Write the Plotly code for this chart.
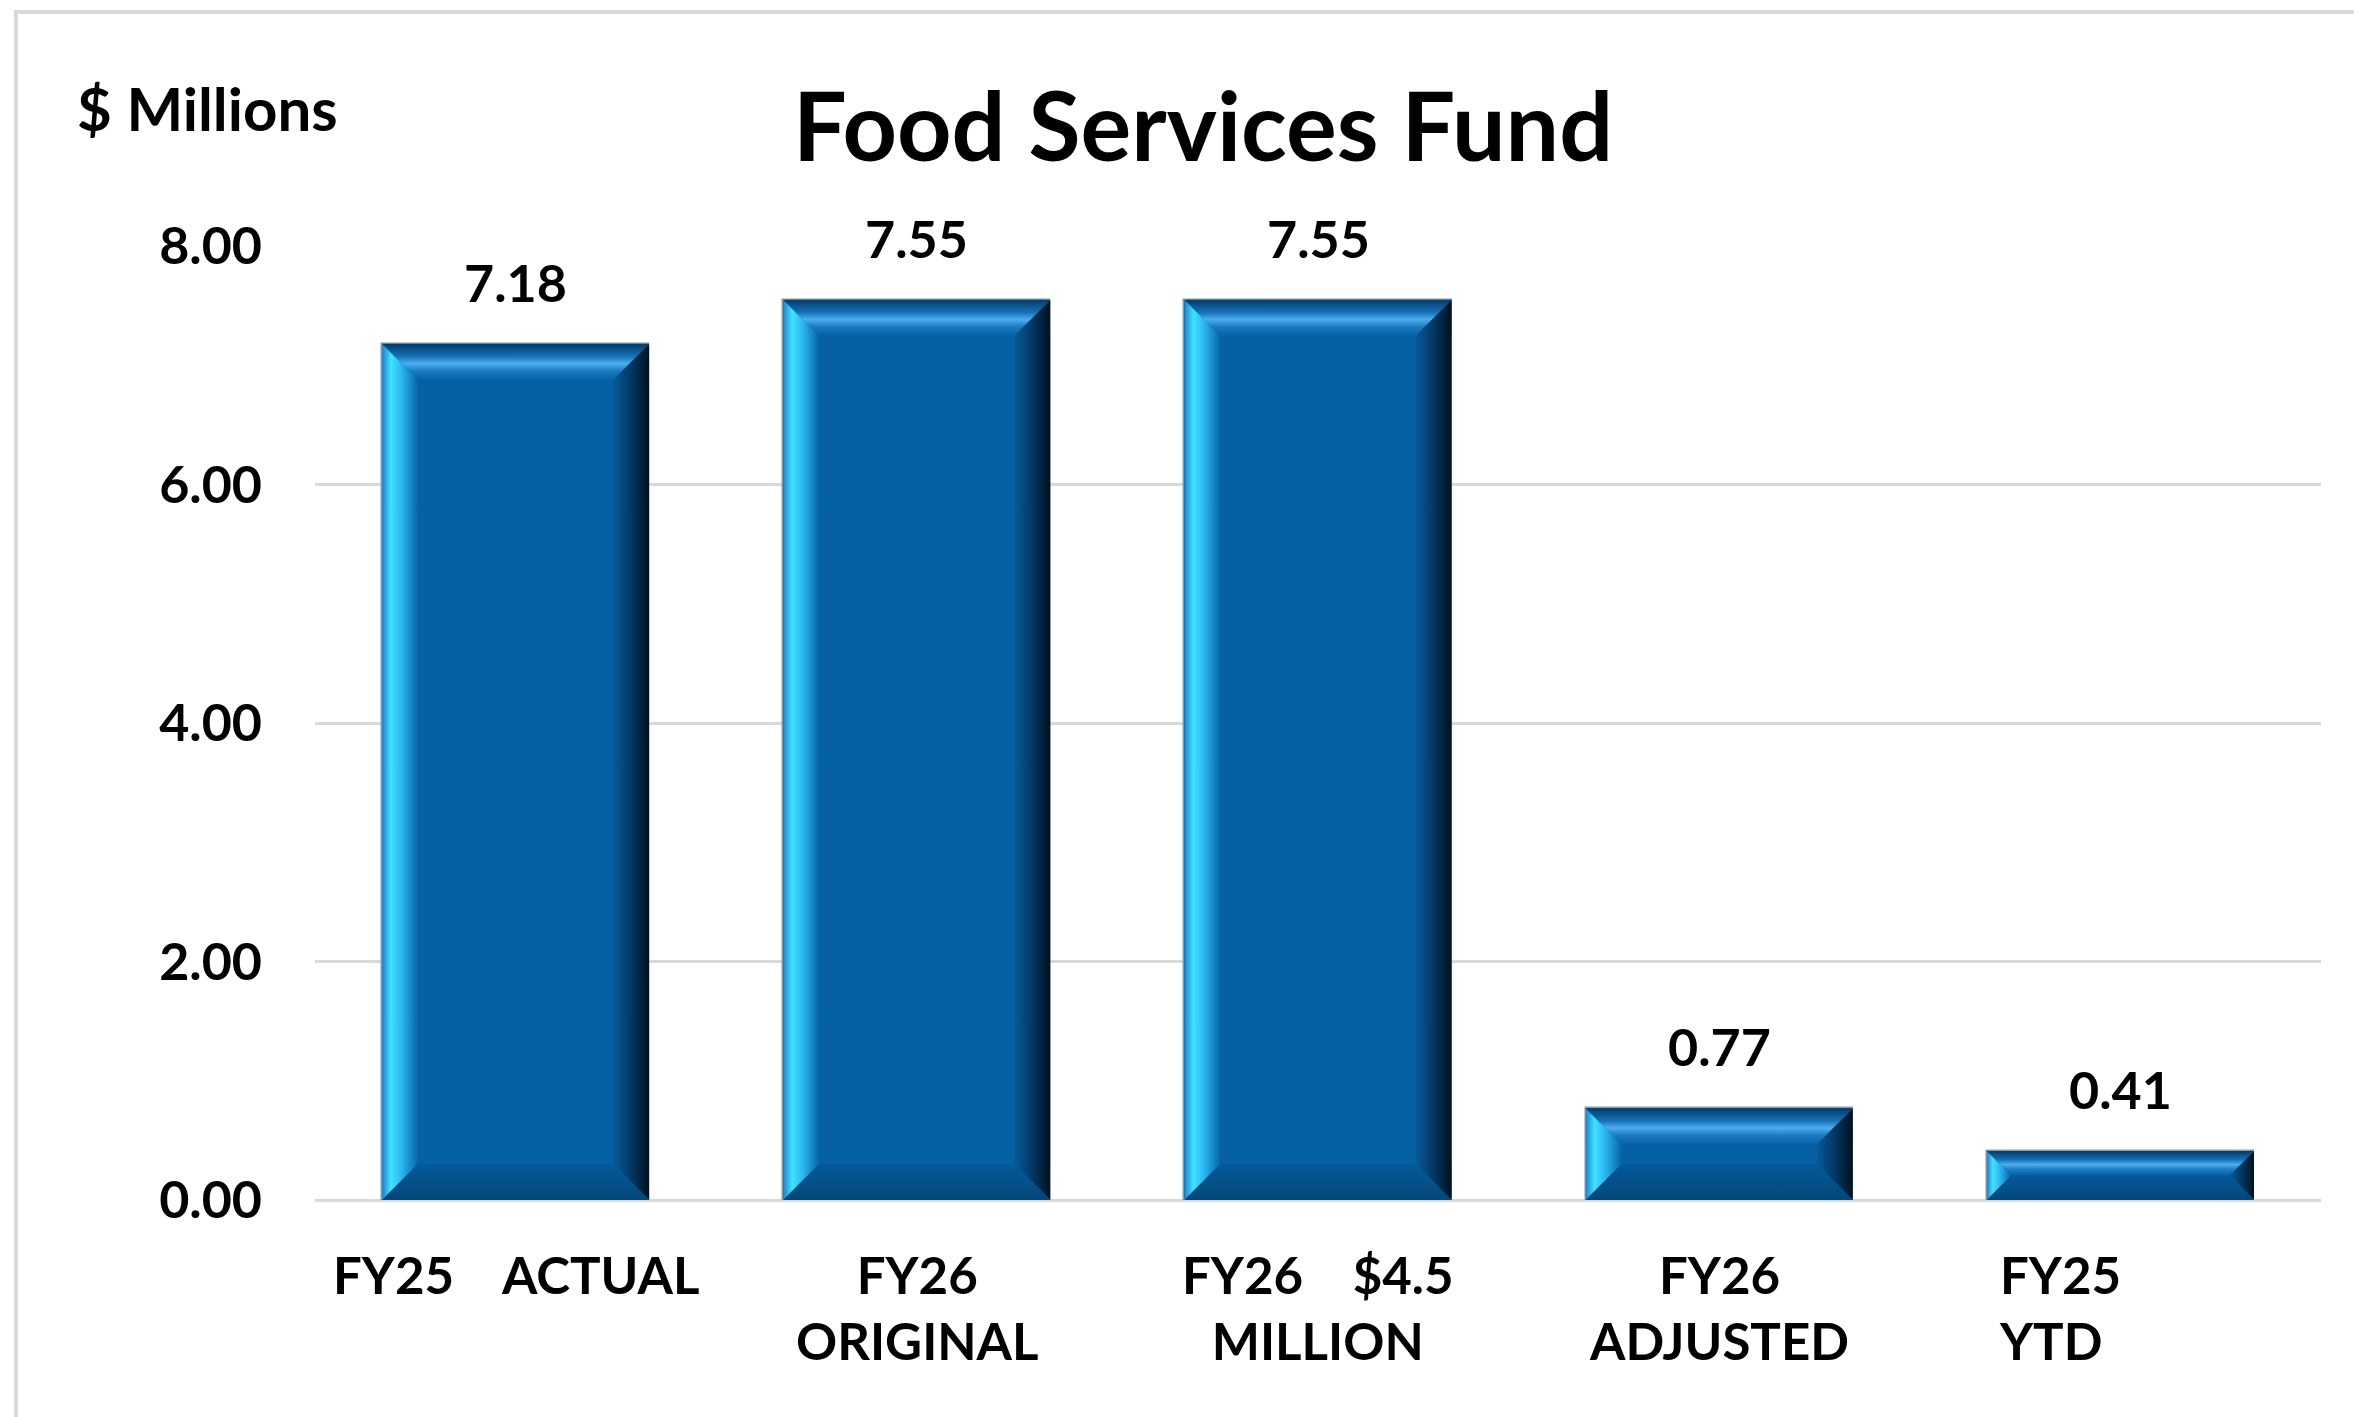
import plotly.graph_objects as go

# data
categories = ["FY25 ACTUAL", "FY26 ORIGINAL", "FY26 $4.5 MILLION", "FY26 ADJUSTED", "FY25 YTD"]
values = [7.18, 7.55, 7.55, 0.77, 0.41]
x_labels = [
    "FY25\u00a0\u00a0\u00a0\u00a0ACTUAL",
    "FY26<br>ORIGINAL",
    "FY26\u00a0\u00a0\u00a0\u00a0$4.5<br>MILLION",
    "FY26<br>ADJUSTED",
    "FY25<br>YTD",
]
y_ticks = [0, 2, 4, 6, 8]

W, H = 2362, 1417
OFF = 8  # page body margin of the html
L, R, T, B = 315, 41, 246, 217
PW, PH = W - L - R, H - T - B
FONT = "Lato"
bar_w = 0.666
xr = [-0.5, len(values) - 0.5]
yr = [0, 8]

# pixel -> data unit helpers, for the bevel size
px_x = PW / (xr[1] - xr[0])
px_y = PH / (yr[1] - yr[0])
BEVEL = 36

face = "#0560A4"
left_cs = [[0, "#1C82CC"], [0.25, "#3FE2FF"], [0.55, "#2BB4F0"], [1, "#0864AA"]]
right_cs = [[0, "#075A98"], [0.45, "#043B68"], [1, "#00111F"]]
top_cs = [[0, "#0762A6"], [0.25, "#1C7CC4"], [0.45, "#4DAEEE"], [0.65, "#1570B8"], [1, "#033A66"]]
bot_cs = [[0, "#03477A"], [1, "#055A9A"]]

fig = go.Figure()
xs = list(range(len(values)))
fig.add_trace(go.Bar(x=xs, y=values, width=bar_w, marker_color=face,
                     marker_line_width=0, hoverinfo="skip", showlegend=False))

def poly(px, py, cs, kind):
  fig.add_trace(go.Scatter(
    x=px + [px[0]], y=py + [py[0]], mode="lines", line_width=0,
    fill="toself", fillgradient=dict(type=kind, colorscale=cs),
    hoverinfo="skip", showlegend=False))

for i, v in zip(xs, values):
  b = min(BEVEL, v * px_y / 2)
  bx, by = b / px_x, b / px_y
  x0, x1 = i - bar_w / 2, i + bar_w / 2
  y0, y1 = 0, v
  poly([x0, x0, x0 + bx, x0 + bx], [y0, y1, y1 - by, y0 + by], left_cs, "horizontal")
  poly([x1 - bx, x1 - bx, x1, x1], [y0 + by, y1 - by, y1, y0], right_cs, "horizontal")
  poly([x0, x1, x1 - bx, x0 + bx], [y1, y1, y1 - by, y1 - by], top_cs, "vertical")
  poly([x0, x1, x1 - bx, x0 + bx], [y0, y0, y0 + by, y0 + by], bot_cs, "vertical")

# thin outline on top
fig.add_trace(go.Bar(x=xs, y=values, width=bar_w, marker_color="rgba(0,0,0,0)",
                     marker_line=dict(color="#8A9AA8", width=1.5),
                     hoverinfo="skip", showlegend=False))

lab_font = dict(family=FONT, size=52, color="#000000", weight="bold")
x_font = dict(family=FONT, size=51, color="#000000", weight="bold")
for i, v in zip(xs, values):
  fig.add_annotation(x=i, y=v, text=f"{v:.2f}", showarrow=False,
                     yanchor="middle", yshift=62, font=lab_font)

for i, t in zip(xs, x_labels):
  if i == len(xs) - 1:
    fig.add_annotation(x=i, y=0, text=t, showarrow=False, yanchor="top",
                       xanchor="left", align="left", xshift=-123, yshift=-42, font=x_font)
  else:
    fig.add_annotation(x=i, y=0, text=t, showarrow=False, yanchor="top",
                       yshift=-42, font=x_font)

fig.add_annotation(xref="paper", yref="paper", x=(75 - L) / PW,
                   y=(H - B - 108) / PH, xanchor="left", yanchor="middle",
                   text="$ Millions", showarrow=False,
                   font=dict(family=FONT, size=60, color="#000000", weight="bold"))

# chart frame
fig.add_shape(type="rect", xref="paper", yref="paper",
              x0=(16 - L) / PW, x1=(2380 - L) / PW,
              y0=(H - B - 1440) / PH, y1=(H - B - 12) / PH,
              line=dict(color="#D9D9D9", width=4), layer="below")

fig.update_layout(
  width=W - OFF, height=H - OFF,
  margin=dict(l=L - OFF, r=R, t=T - OFF, b=B),
  paper_bgcolor="white", plot_bgcolor="white",
  barmode="overlay", bargap=0,
  title=dict(text="Food Services Fund", xref="container", yref="container",
             x=(1203 - OFF) / (W - OFF), y=1 - (128 - OFF) / (H - OFF),
             xanchor="center", yanchor="middle",
             font=dict(family=FONT, size=95, color="#000000", weight="bold")),
  xaxis=dict(range=xr, showticklabels=False, showgrid=False, zeroline=False,
             showline=False, fixedrange=True),
  yaxis=dict(range=yr, tickvals=y_ticks, tickformat=".2f", showgrid=True,
             gridcolor="#D9D9D9", gridwidth=3, zeroline=True,
             zerolinecolor="#D9D9D9", zerolinewidth=3, showline=False,
             ticks="", ticklabelstandoff=52,
             tickfont=dict(family=FONT, size=52, color="#000000", weight="bold")),
)

fig.write_html("out.html")
